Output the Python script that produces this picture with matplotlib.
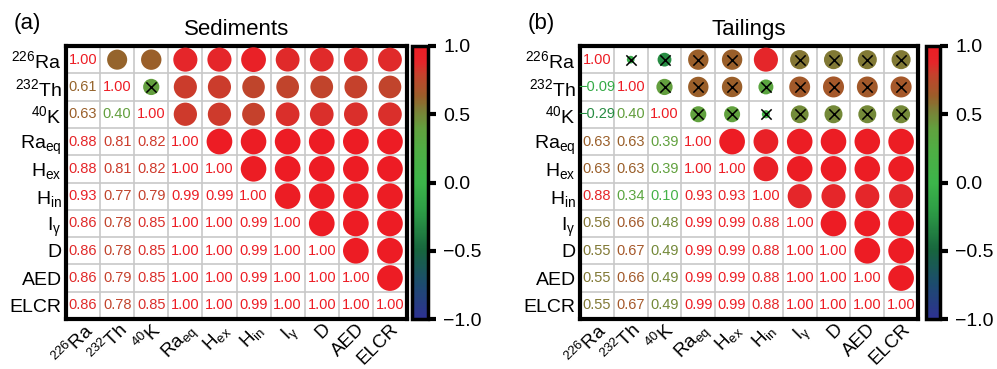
import numpy as np
import matplotlib
matplotlib.use("Agg")
import matplotlib.pyplot as plt
from matplotlib.colors import LinearSegmentedColormap, Normalize
from matplotlib.cm import ScalarMappable
from matplotlib.ticker import FuncFormatter

plt.rcParams['font.family'] = ['Liberation Sans', 'DejaVu Sans']
plt.rcParams['mathtext.fontset'] = 'custom'
plt.rcParams['mathtext.rm'] = 'Liberation Sans'
plt.rcParams['mathtext.it'] = 'Liberation Sans:italic'

# axis labels (same on both panels)
labels = [r'$^{226}$Ra', r'$^{232}$Th', r'$^{40}$K', r'Ra$_{\mathrm{eq}}$', r'H$_{\mathrm{ex}}$',
          r'H$_{\mathrm{in}}$', r'I$_{\mathrm{γ}}$', 'D', 'AED', 'ELCR']

# lower triangle of the correlation matrices, row by row
sediments_rows = [
    [1.00],
    [0.61, 1.00],
    [0.63, 0.40, 1.00],
    [0.88, 0.81, 0.82, 1.00],
    [0.88, 0.81, 0.82, 1.00, 1.00],
    [0.93, 0.77, 0.79, 0.99, 0.99, 1.00],
    [0.86, 0.78, 0.85, 1.00, 1.00, 0.99, 1.00],
    [0.86, 0.78, 0.85, 1.00, 1.00, 0.99, 1.00, 1.00],
    [0.86, 0.79, 0.85, 1.00, 1.00, 0.99, 1.00, 1.00, 1.00],
    [0.86, 0.78, 0.85, 1.00, 1.00, 0.99, 1.00, 1.00, 1.00, 1.00],
]
tailings_rows = [
    [1.00],
    [-0.09, 1.00],
    [-0.29, 0.40, 1.00],
    [0.63, 0.63, 0.39, 1.00],
    [0.63, 0.63, 0.39, 1.00, 1.00],
    [0.88, 0.34, 0.10, 0.93, 0.93, 1.00],
    [0.56, 0.66, 0.48, 0.99, 0.99, 0.88, 1.00],
    [0.55, 0.67, 0.49, 0.99, 0.99, 0.88, 1.00, 1.00],
    [0.55, 0.66, 0.49, 0.99, 0.99, 0.88, 1.00, 1.00, 1.00],
    [0.55, 0.67, 0.49, 0.99, 0.99, 0.88, 1.00, 1.00, 1.00, 1.00],
]

# non significant pairs (row, col) in the upper triangle, marked with a cross
sediments_ns = [(1, 2)]
tailings_ns = [(0, 1), (0, 2), (0, 3), (0, 4), (0, 6), (0, 7), (0, 8), (0, 9),
               (1, 2), (1, 3), (1, 4), (1, 5), (1, 6), (1, 7), (1, 8), (1, 9),
               (2, 3), (2, 4), (2, 5), (2, 6), (2, 7), (2, 8), (2, 9)]

cmap = LinearSegmentedColormap.from_list("corr", [
    (0.0, '#2e3192'),
    (0.13, '#1c4c6e'),
    (0.25, '#17653e'),
    (0.4, '#2e9e46'),
    (0.5, '#3cb54a'),
    (0.62, '#4fae44'),
    (0.7, '#62a03e'),
    (0.775, '#807a35'),
    (0.815, '#9a5f2a'),
    (0.9, '#c6402c'),
    (0.94, '#e5262a'),
    (1.0, '#ed1c24')])
norm = Normalize(-1, 1)


def full_matrix(rows):
    n = len(rows)
    m = np.zeros((n, n))
    for i in range(n):
        for j in range(i + 1):
            m[i, j] = rows[i][j]
            m[j, i] = rows[i][j]
    return m


def draw_panel(ax, cax, rows, ns, title, tag, tagx):
    m = full_matrix(rows)
    n = len(rows)
    # numbers on the lower triangle
    for i in range(n):
        for j in range(i + 1):
            ax.text(j, i, f"{m[i, j]:.2f}".replace('-', '\u2212'), ha='center', va='center',
                    fontsize=10.5, color=cmap(norm(m[i, j])))
    # circles on the upper triangle
    xs, ys, vs = [], [], []
    for i in range(n):
        for j in range(i + 1, n):
            xs.append(j)
            ys.append(i)
            vs.append(m[i, j])
    vs = np.array(vs)
    ax.scatter(xs, ys, s=(18.5 * np.sqrt(np.abs(vs))) ** 2, c=vs, cmap=cmap, norm=norm,
               edgecolors='none', zorder=3)
    if ns:
        ax.scatter([c for r, c in ns], [r for r, c in ns], marker='x', s=55, c='black',
                   linewidths=1.1, zorder=4)

    ax.set_xlim(-0.5, n - 0.5)
    ax.set_ylim(n - 0.5, -0.5)
    ax.set_xticks(range(n))
    ax.set_yticks(range(n))
    ax.set_xticklabels(labels, rotation=45, ha='right', va='top', rotation_mode='anchor',
                       fontsize=13.5)
    ax.set_yticklabels(labels, fontsize=14)
    ax.tick_params(axis='y', length=0, pad=3)
    ax.tick_params(axis='x', length=0, pad=1)
    ax.set_xticks(np.arange(-0.5, n, 1), minor=True)
    ax.set_yticks(np.arange(-0.5, n, 1), minor=True)
    ax.grid(which='minor', color='#c8c8c8', linewidth=1.2)
    ax.tick_params(which='minor', length=0)
    for sp in ax.spines.values():
        sp.set_linewidth(3)
    ax.set_title(title, fontsize=16, pad=8)
    ax.figure.text(tagx, 0.935, tag, fontsize=16, ha='left', va='center')

    cb = ax.figure.colorbar(ScalarMappable(norm=norm, cmap=cmap), cax=cax,
                            ticks=[-1, -0.5, 0, 0.5, 1],
                            format=FuncFormatter(lambda v, p: f"{v:.1f}".replace('-', '\u2212')))
    cb.outline.set_linewidth(2.5)
    cb.ax.tick_params(width=3, length=6, labelsize=14, pad=5)


fig = plt.figure(figsize=(9.97, 3.69), dpi=100)
ax1 = fig.add_axes([66 / 997, 1 - 319 / 369, 341 / 997, 273 / 369])
cax1 = fig.add_axes([412 / 997, 1 - 319 / 369, 16 / 997, 273 / 369])
ax2 = fig.add_axes([580 / 997, 1 - 319 / 369, 338 / 997, 273 / 369])
cax2 = fig.add_axes([926 / 997, 1 - 319 / 369, 14 / 997, 273 / 369])

draw_panel(ax1, cax1, sediments_rows, sediments_ns, "Sediments", "(a)", 14 / 997)
draw_panel(ax2, cax2, tailings_rows, tailings_ns, "Tailings", "(b)", 528 / 997)

fig.savefig("out.png", dpi=100)
